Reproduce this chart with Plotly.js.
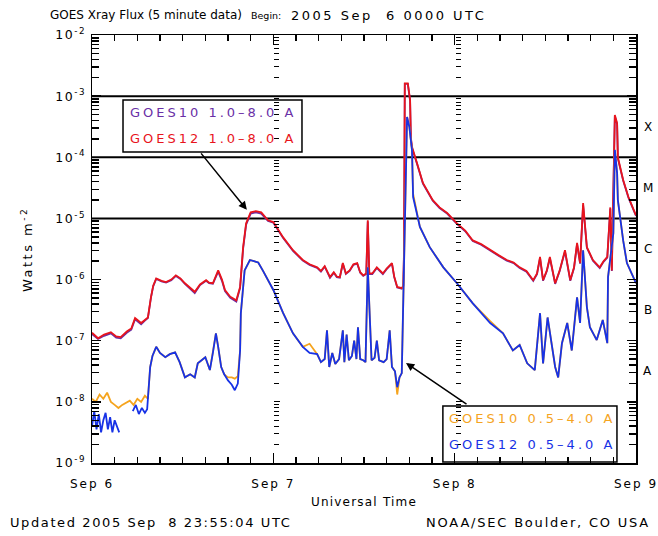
<!DOCTYPE html>
<html><head><meta charset="utf-8">
<script src="https://cdn.plot.ly/plotly-3.0.1.min.js"></script>
<style>html,body{margin:0;padding:0;background:#fff}</style>
</head><body><div id="chart" style="width:658px;height:536px"></div>
<script>
// hours since 2005 Sep 6 00:00 UTC ; values are log10 of flux (W m^-2)
const g12LongHours = [0,0.8,1.6,2.5,3.2,3.8,4.6,5.2,5.7,6.5,
 7.0,7.4,7.8,8.1,8.5,9.2,9.8,10.5,11.1,11.7,
 12.3,13.0,13.6,14.3,15.1,15.5,16.0,16.7,17.2,17.6,
 18.3,19.1,19.6,20.0,20.4,21.0,21.7,22.4,23.3,24.0,
 25.3,26.6,27.9,28.8,29.8,30.3,30.8,31.5,32.0,32.4,
 32.8,33.2,33.6,34.1,34.6,35.1,35.5,35.9,36.3,36.5,
 36.7,37.1,37.7,38.1,38.5,39.0,39.7,40.0,40.4,41.0,
 41.2,41.3,41.4,41.8,42.1,42.2,42.35,43.0,43.8,45.1,
 46.0,47.0,48.3,49.4,50.4,51.5,52.7,53.8,54.9,55.8,
 56.6,57.5,58.4,58.9,59.3,59.7,60.2,60.6,61.3,61.9,
 62.6,63.3,63.8,64.2,64.6,65.0,65.5,66.3,67.2,67.7,
 68.2,68.6,68.8,69.0,69.2,69.5,69.6,70.3,71.0,72];
const g12LongLog = [-6.87,-6.96,-6.9,-6.86,-6.93,-6.94,-6.85,-6.8,-6.63,-6.71,
 -6.66,-6.62,-6.29,-6.1,-5.98,-6.02,-6.04,-6.0,-5.93,-5.98,
 -6.06,-6.14,-6.2,-6.08,-6.01,-6.05,-6.06,-5.85,-6.0,-6.17,
 -6.28,-6.34,-6.12,-5.47,-5.08,-4.9,-4.88,-4.9,-5.03,-5.06,
 -5.31,-5.52,-5.68,-5.75,-5.8,-5.86,-5.78,-5.96,-5.88,-5.95,
 -5.96,-5.73,-5.9,-5.85,-5.75,-5.73,-5.88,-5.93,-5.9,-5.03,
 -5.9,-5.9,-5.8,-5.85,-5.9,-5.82,-5.73,-5.95,-6.12,-6.14,
 -6.1,-5.52,-2.79,-2.79,-3.06,-3.67,-3.83,-4.09,-4.42,-4.7,
 -4.82,-4.91,-5.08,-5.2,-5.36,-5.42,-5.52,-5.6,-5.68,-5.72,
 -5.8,-5.86,-6.01,-5.9,-5.63,-6.01,-5.85,-5.63,-6.06,-5.85,
 -5.52,-6.01,-5.8,-5.4,-5.73,-4.75,-5.47,-5.68,-5.8,-5.7,
 -5.63,-4.82,-5.85,-4.54,-3.31,-3.44,-4.0,-4.37,-4.65,-4.95];

const g10LongHours = [0,0.8,1.6,2.5,3.2,3.8,4.6,5.2,5.7,6.5,
 7.0,7.4,7.8,8.1,8.5,9.2,9.8,10.5,11.1,11.7,
 12.3,13.0,13.6,14.3,15.1,15.5,16.0,16.7,17.2,17.6,
 18.3,19.1,19.6,20.0,20.4,21.0,21.7,22.4,23.3,24.0,
 25.3,26.6,27.9,28.8,29.8,30.3,30.8,31.5,32.0,32.4,
 32.8,33.2,33.6,34.1,34.6,35.1,35.5,35.9,36.3,36.5,
 36.7,37.1,37.7,38.1,38.5,39.0,39.7,40.0,40.4,41.0,
 41.2,41.3,41.4,41.8,42.1,42.2,42.35,43.0,43.8,45.1,
 46.0,47.0,48.3,49.4,50.4,51.5,52.7,53.8,54.9,55.8,
 56.6,57.5,58.4,58.9,59.3,59.7,60.2,60.6,61.3,61.9,
 62.6,63.3,63.8,64.2,64.6,65.0,65.5,66.3,67.2,67.7,
 68.2,68.6,68.8,69.0,69.2,69.5,69.6,70.3,71.0,72];
const g10LongLog = [-6.89,-6.97,-6.92,-6.88,-6.95,-6.96,-6.87,-6.82,-6.65,-6.73,
 -6.67,-6.63,-6.3,-6.11,-5.99,-6.03,-6.05,-6.01,-5.94,-5.99,
 -6.07,-6.15,-6.22,-6.09,-6.02,-6.06,-6.07,-5.87,-6.02,-6.19,
 -6.3,-6.36,-6.14,-5.5,-5.1,-4.92,-4.9,-4.92,-5.04,-5.07,
 -5.32,-5.53,-5.69,-5.76,-5.81,-5.87,-5.79,-5.97,-5.89,-5.96,
 -5.97,-5.74,-5.91,-5.86,-5.76,-5.74,-5.89,-5.94,-5.91,-5.05,
 -5.91,-5.91,-5.81,-5.86,-5.91,-5.83,-5.74,-5.96,-6.13,-6.15,
 -6.11,-5.54,-2.8,-2.8,-3.08,-3.69,-3.85,-4.1,-4.43,-4.71,
 -4.83,-4.92,-5.09,-5.21,-5.37,-5.43,-5.53,-5.61,-5.69,-5.73,
 -5.81,-5.87,-6.02,-5.91,-5.65,-6.02,-5.86,-5.65,-6.07,-5.86,
 -5.54,-6.02,-5.81,-5.42,-5.74,-4.78,-5.48,-5.69,-5.81,-5.71,
 -5.64,-4.84,-5.86,-4.56,-3.33,-3.46,-4.02,-4.38,-4.66,-4.96];

const g12ShortHours = [0,0.3,0.6,0.9,1.2,1.5,1.8,2.1,2.4,2.7,
 3.0,3.3,3.6,4.2,5.4,5.8,6.2,6.6,7.0,7.3,
 7.7,8.0,8.5,9.0,9.7,10.3,11.0,11.6,12.3,13.0,
 13.6,14.0,15.0,15.6,16.0,16.4,16.7,17.1,17.5,18.0,
 18.5,18.9,19.3,19.6,19.7,20.2,20.9,22.0,22.6,23.3,
 24.0,25.3,26.6,27.9,28.8,29.8,30.3,30.8,31.1,31.4,
 31.8,32.2,32.7,33.2,33.4,33.7,34.0,34.4,34.7,35.0,
 35.2,35.5,35.9,36.2,36.5,36.8,37.0,37.4,37.7,38.0,
 38.6,39.0,39.4,39.7,40.1,40.4,40.7,41.0,41.2,41.7,
 42.0,42.35,42.5,43.4,44.7,46.5,48.3,50.4,52.7,54.4,
 55.7,56.6,57.6,58.6,59.3,59.7,60.3,61.3,61.7,62.2,
 62.9,63.5,64.2,64.6,65.0,65.5,65.9,66.8,67.6,68.2,
 68.3,68.8,69.0,69.2,69.5,69.6,70.3,70.8,72];
const g12ShortLog = [-8.4,-8.15,-8.45,-8.2,-8.5,-8.3,-8.18,-8.45,-8.25,-8.5,
 -8.3,-8.4,-8.5,null,-8.15,-8.05,-8.2,-8.1,-8.18,-8.12,
 -7.43,-7.25,-7.1,-7.2,-7.27,-7.22,-7.19,-7.35,-7.6,-7.55,
 -7.6,-7.37,-7.27,-7.48,-7.2,-6.88,-7.1,-7.43,-7.55,-7.65,
 -7.72,-7.81,-7.7,-7.16,-6.55,-5.85,-5.68,-5.72,-5.85,-6.01,
 -6.17,-6.55,-6.88,-7.1,-7.2,-7.22,-7.35,-7.3,-6.83,-7.43,
 -7.2,-7.38,-7.3,-6.83,-7.35,-6.9,-7.32,-7.25,-7.0,-7.3,
 -6.78,-7.3,-7.32,-7.35,-5.8,-6.71,-7.32,-7.28,-7.0,-7.32,
 -7.35,-7.3,-6.83,-7.43,-7.5,-7.76,-7.6,-7.53,-6.17,-3.34,
 -3.5,-3.88,-4.65,-5.14,-5.47,-5.8,-6.06,-6.39,-6.71,-6.88,
 -7.16,-7.07,-7.37,-7.48,-6.55,-7.37,-6.62,-7.43,-7.6,-7.04,
 -6.71,-7.16,-6.29,-6.71,-5.52,-6.45,-6.78,-6.99,-6.66,-7.04,
 -5.96,-5.47,-5.24,-3.88,-4.26,-4.7,-5.36,-5.73,-6.06];

const g10ShortHours = [0,0.5,1.0,1.5,2.0,2.5,3.0,3.5,4.0,4.5,
 5.0,5.5,6.0,6.5,7.0,7.4,
 7.7,8.0,8.5,9.0,9.7,10.3,11.0,11.6,12.3,13.0,
 13.6,14.0,15.0,15.6,16.0,16.4,16.7,17.1,17.5,18.0,
 18.5,18.9,19.3,19.6,19.7,20.2,20.9,22.0,22.6,23.3,
 24.0,25.3,26.6,27.9,28.8,29.8,30.3,30.8,31.1,31.4,
 31.8,32.2,32.7,33.2,33.4,33.7,34.0,34.4,34.7,35.0,
 35.2,35.5,35.9,36.2,36.5,36.8,37.0,37.4,37.7,38.0,
 38.6,39.0,39.4,39.7,40.1,40.4,40.7,41.0,41.2,41.7,
 42.0,42.35,42.5,43.4,44.7,46.5,48.3,50.4,52.7,54.4,
 55.7,56.6,57.6,58.6,59.3,59.7,60.3,61.3,61.7,62.2,
 62.9,63.5,64.2,64.6,65.0,65.5,65.9,66.8,67.6,68.2,
 68.3,68.8,69.0,69.2,69.5,69.6,70.3,70.8,72];
const g10ShortLog = [-7.95,-8.0,-7.88,-7.95,-7.85,-8.0,-8.05,-8.1,-8.05,-8.02,
 -7.98,-8.05,-7.95,-8.0,-7.9,-7.95,
 -7.43,-7.25,-7.1,-7.2,-7.27,-7.22,-7.19,-7.35,-7.6,-7.55,
 -7.6,-7.37,-7.27,-7.48,-7.2,-6.88,-7.1,-7.43,-7.55,-7.6,
 -7.6,-7.62,-7.58,-7.16,-6.55,-5.85,-5.68,-5.72,-5.85,-6.01,
 -6.17,-6.55,-6.88,-7.1,-7.05,-7.22,-7.35,-7.3,-6.83,-7.43,
 -7.2,-7.38,-7.3,-6.83,-7.35,-6.9,-7.32,-7.25,-7.0,-7.3,
 -6.78,-7.3,-7.32,-7.35,-5.8,-6.71,-7.32,-7.28,-7.0,-7.32,
 -7.35,-7.3,-6.83,-7.43,-7.5,-7.88,-7.6,-7.53,-6.17,-3.34,
 -3.5,-3.88,-4.6,-5.14,-5.47,-5.8,-6.06,-6.39,-6.68,-6.88,
 -7.16,-7.07,-7.37,-7.48,-6.55,-7.37,-6.62,-7.43,-7.6,-7.04,
 -6.71,-7.16,-6.29,-6.71,-5.52,-6.45,-6.78,-6.99,-6.66,-7.04,
 -5.96,-5.47,-5.24,-3.88,-4.26,-4.7,-5.36,-5.73,-6.06];

const dayHours = [0, 24, 48, 72];
const dayLabels = ['Sep 6', 'Sep 7', 'Sep 8', 'Sep 9'];
const yTickExponents = [-9, -8, -7, -6, -5, -4, -3, -2];
const yTickLabels = ['10<sup>-9</sup>','10<sup>-8</sup>','10<sup>-7</sup>','10<sup>-6</sup>','10<sup>-5</sup>','10<sup>-4</sup>','10<sup>-3</sup>','10<sup>-2</sup>'];
const flareClasses = ['X', 'M', 'C', 'B', 'A'];
const flareClassLevels = [-3.5, -4.5, -5.5, -6.5, -7.5];
const thresholdLevels = [1e-3, 1e-4, 1e-5];
const legendTop = ['GOES10 1.0–8.0 A', 'GOES12 1.0–8.0 A'];
const legendBottom = ['GOES10 0.5–4.0 A', 'GOES12 0.5–4.0 A'];

const toFlux = a => a.map(v => v === null ? null : Math.pow(10, v));
const sp = (t, px) => '<span style="letter-spacing:' + px + 'px">' + t + '</span>';
const FONT = 'DejaVu Sans, Verdana, sans-serif';
const purple = '#6a2fa6', red = '#e8141c', orange = '#f5a41e', blue = '#1732e6';

const traces = [];
thresholdLevels.forEach(t => traces.push({x: [0, 72], y: [t, t], mode: 'lines', line: {color: '#000', width: 2}, hoverinfo: 'skip'}));
traces.push({x: g10LongHours, y: toFlux(g10LongLog), mode: 'lines', line: {color: purple, width: 1.8}, name: legendTop[0]});
traces.push({x: g12LongHours, y: toFlux(g12LongLog), mode: 'lines', line: {color: red, width: 1.8}, name: legendTop[1]});
traces.push({x: g10ShortHours, y: toFlux(g10ShortLog), mode: 'lines', line: {color: orange, width: 1.8}, name: legendBottom[0]});
traces.push({x: g12ShortHours, y: toFlux(g12ShortLog), mode: 'lines', line: {color: blue, width: 1.8}, connectgaps: false, name: legendBottom[1]});
traces.push({x: [], y: [], yaxis: 'y2', showlegend: false});
traces.push({x: [], y: [], yaxis: 'y3', showlegend: false});
traces.push({x: [], y: [], xaxis: 'x2', yaxis: 'y4', showlegend: false});

const yTickVals = yTickExponents.map(e => Math.pow(10, e));
const minorY = {dtick: 'D1', ticks: 'inside', ticklen: 7, tickcolor: '#000', showgrid: false};
const dayAxis = pos => ({
  type: 'log', range: [-9, -2], overlaying: 'y', anchor: 'free', position: pos,
  showline: false, showgrid: false, zeroline: false, showticklabels: false,
  tickmode: 'array', tickvals: yTickVals, ticks: 'inside', ticklen: 6, tickcolor: '#000',
  minor: {dtick: 'D1', ticks: 'inside', ticklen: 5, tickcolor: '#000', showgrid: false}
});

const ann = [];
const txt = (x, y, t, size, opts) => ann.push(Object.assign({xref: 'paper', yref: 'paper', x: x, y: y, text: t, showarrow: false,
  xanchor: 'left', yanchor: 'middle', font: {family: FONT, size: size, color: '#000'}}, opts || {}));

txt(-0.081, 1.0467, 'GOES Xray Flux (5 minute data)', 12);
txt(0.289, 1.0467, 'Begin:', 9.5);
txt(0.362, 1.0467, sp('2005 Sep  6 0000 UTC', 2.5), 13);
txt(-0.154, -0.140, sp('Updated 2005 Sep  8 23:55:04 UTC', 1.6), 13);
txt(1.03, -0.140, sp('NOAA/SEC Boulder, CO USA', 1.8), 13, {xanchor: 'right'});
txt(0.5, -0.091, sp('Universal Time', 1.2), 12, {xanchor: 'center'});
txt(-0.1195, 0.5, sp('Watts m<sup>-2</sup>', 2.5), 13, {xanchor: 'center', textangle: -90});
flareClasses.forEach((c, i) => ann.push({xref: 'paper', yref: 'y', x: 1.022, y: flareClassLevels[i], text: c, showarrow: false,
  xanchor: 'center', font: {family: FONT, size: 12, color: '#000'}}));
// legend texts
txt(0.066, 0.818, sp(legendTop[0], 3), 13, {font: {family: FONT, size: 13, color: purple}});
txt(0.066, 0.759, sp(legendTop[1], 3), 13, {font: {family: FONT, size: 13, color: red}});
txt(0.653, 0.103, sp(legendBottom[0], 3), 13, {font: {family: FONT, size: 13, color: orange}});
txt(0.653, 0.044, sp(legendBottom[1], 3), 13, {font: {family: FONT, size: 13, color: blue}});
// pointer arrows
ann.push({xref: 'x', yref: 'y', x: 20.5, y: -4.86, text: '', showarrow: true, arrowhead: 2, arrowsize: 1.1, arrowwidth: 1.5,
  arrowcolor: '#000', ax: -47, ay: -58});
ann.push({xref: 'x', yref: 'y', x: 41.56, y: -7.365, text: '', showarrow: true, arrowhead: 2, arrowsize: 1.1, arrowwidth: 1.5,
  arrowcolor: '#000', ax: 62, ay: 42});

const layout = {
  width: 658, height: 536,
  margin: {l: 92, r: 22, t: 35, b: 73},
  paper_bgcolor: '#fff', plot_bgcolor: '#fff',
  showlegend: false,
  font: {family: FONT, size: 12, color: '#000'},
  xaxis: {
    range: [0, 72], tickmode: 'array', tickvals: dayHours, ticktext: dayLabels.map(d => sp(d, 2)),
    ticks: 'inside', ticklen: 10, tickcolor: '#000', tickwidth: 1.5, ticklabelstandoff: 9,
    ticklabeloverflow: 'allow',
    showline: true, linecolor: '#000', linewidth: 1.5, mirror: true,
    showgrid: false, zeroline: false,
    minor: {dtick: 3, tick0: 0, ticks: 'inside', ticklen: 6, tickcolor: '#000', showgrid: false},
    tickfont: {size: 12}
  },
  xaxis2: {
    range: [0, 72], overlaying: 'x', side: 'top', anchor: 'y4', showticklabels: false, showline: false, showgrid: false, zeroline: false,
    tickmode: 'array', tickvals: dayHours, ticks: 'inside', ticklen: 10, tickcolor: '#000', tickwidth: 1.5,
    minor: {dtick: 3, tick0: 0, ticks: 'inside', ticklen: 6, tickcolor: '#000', showgrid: false}
  },
  yaxis: {
    type: 'log', range: [-9, -2], tickmode: 'array', tickvals: yTickVals, ticktext: yTickLabels.map(t => sp(t, 1.5)),
    ticks: 'inside', ticklen: 9, tickcolor: '#000', tickwidth: 1.5, ticklabelstandoff: 2,
    ticklabeloverflow: 'allow',
    showline: true, linecolor: '#000', linewidth: 1.5, mirror: true,
    showgrid: false, zeroline: false,
    minor: minorY,
    tickfont: {size: 12.5}
  },
  yaxis2: dayAxis(1/3),
  yaxis3: dayAxis(2/3),
  yaxis4: {
    type: 'log', range: [-9, -2], overlaying: 'y', side: 'right', anchor: 'x2',
    showline: false, showgrid: false, zeroline: false, showticklabels: false,
    tickmode: 'array', tickvals: yTickVals, ticks: 'inside', ticklen: 9, tickcolor: '#000', tickwidth: 1.5,
    minor: minorY
  },
  shapes: [
    {type: 'rect', xref: 'paper', yref: 'paper', x0: 0.057, x1: 0.386, y0: 0.7266, y1: 0.848,
     line: {color: '#000', width: 1.5}, fillcolor: 'rgba(255,255,255,0)', layer: 'above'},
    {type: 'rect', xref: 'paper', yref: 'paper', x0: 0.645, x1: 0.965, y0: 0.0023, y1: 0.133,
     line: {color: '#000', width: 1.5}, fillcolor: 'rgba(255,255,255,0)', layer: 'above'}
  ],
  annotations: ann
};

Plotly.newPlot('chart', traces, layout, {displayModeBar: false, staticPlot: true});
</script></body></html>
